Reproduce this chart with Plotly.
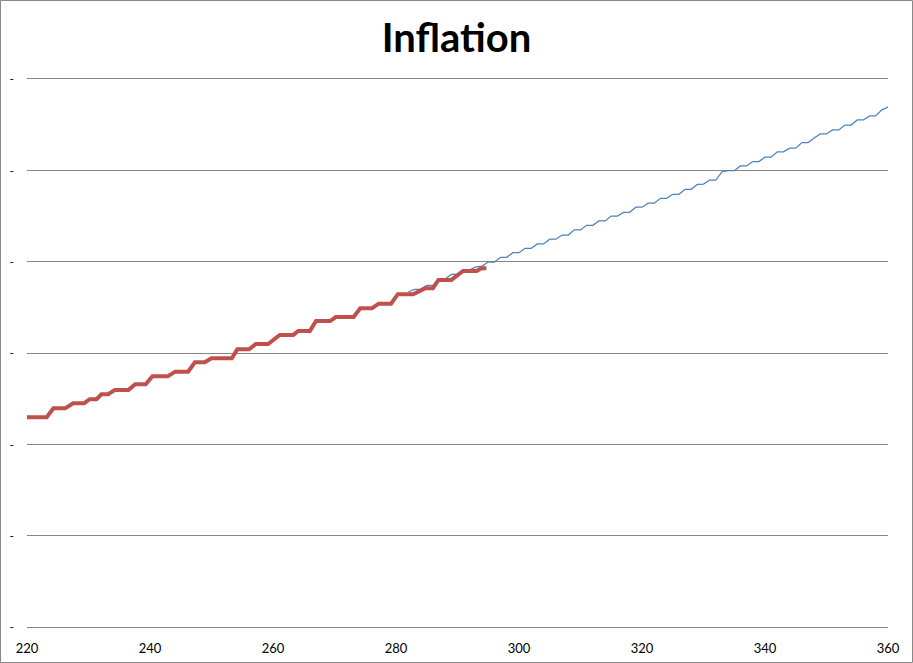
import plotly.graph_objects as go

red_x = [220, 223.2, 224.3, 226.2, 227.5, 229.3, 230.2, 231.3, 232.1, 233.2, 234.3, 236.5,
         237.6, 239.3, 240.4, 242.9, 244.1, 246.2, 247.3, 248.9, 250.0, 253.3, 254.2, 256.1,
         257.2, 259.2, 261.1, 263.3, 264.1, 266.0, 267.0, 269.3, 270.2, 273.1, 274.2, 276.1,
         277.2, 279.2, 280.3, 282.8, 284.7, 286.0, 286.9, 289.0, 290.9, 293.1, 293.9, 294.7]
red_y = [114.8, 114.8, 119.7, 119.7, 122.5, 122.5, 124.7, 124.7, 127.4, 127.4, 129.8, 129.8,
         132.9, 132.9, 137.3, 137.3, 139.8, 139.8, 144.9, 144.9, 147.1, 147.1, 152.0, 152.0,
         154.9, 154.9, 159.9, 159.9, 162.1, 162.1, 167.5, 167.5, 169.7, 169.7, 174.5, 174.5,
         177.0, 177.0, 182.2, 182.2, 185.4, 185.4, 190.0, 190.0, 194.9, 194.9, 196.4, 196.4]

# Projected (blue) series
blue_x = list(range(282, 361))
blue_y = [183.4, 184.8, 184.8, 187.0, 187.0, 190.5, 190.5, 193.0, 193.0, 195.5,
          195.5, 197.1, 197.6, 199.8, 199.8, 202.4, 202.4, 204.9, 204.9, 207.3,
          207.3, 209.7, 209.7, 212.3, 212.3, 214.6, 214.6, 217.4, 217.4, 219.9,
          219.9, 222.3, 222.3, 225.0, 225.0, 227.0, 227.0, 229.8, 229.8, 232.0,
          232.0, 234.7, 234.7, 236.9, 236.9, 239.6, 239.6, 242.3, 242.5, 244.7,
          244.7, 249.1, 249.8, 249.8, 252.4, 252.4, 254.8, 254.8, 257.2, 257.2,
          260.1, 260.1, 262.1, 262.1, 265.2, 265.2, 267.7, 269.9, 269.9, 272.1,
          272.1, 274.8, 274.8, 277.6, 277.6, 279.8, 279.8, 283.1, 284.7]

x_ticks = [220, 240, 260, 280, 300, 320, 340, 360]
y_ticks = [0, 50, 100, 150, 200, 250, 300]
y_ticktext = ["-"] * len(y_ticks)

W, H = 913, 663
ML, MR, MT, MB = 27, 25, 79, 36

fig = go.Figure()
fig.add_trace(go.Scatter(x=blue_x, y=blue_y, mode="lines",
                         line=dict(color="#4F81BD", width=1.25), showlegend=False))
fig.add_trace(go.Scatter(x=red_x, y=red_y, mode="lines",
                         line=dict(color="#C0504D", width=4), showlegend=False))

pw = W - ML - MR
ph = H - MT - MB
fig.add_shape(type="rect", xref="paper", yref="paper",
              x0=(0.5 - ML) / pw, x1=(W - 0.5 - ML) / pw,
              y0=-(MB - 0.5) / ph, y1=(H - 0.5 - MB) / ph,
              line=dict(color="#888888", width=1), layer="below")

fig.update_layout(
    width=W, height=H,
    margin=dict(l=ML, r=MR, t=MT, b=MB, autoexpand=False),
    paper_bgcolor="white", plot_bgcolor="white",
    title=dict(text="<b>Inflation</b>", x=0.5, xref="container", xanchor="center",
               y=1 - 38 / H, yanchor="middle",
               font=dict(family="Lato", size=40, color="black")),
    font=dict(family="Lato", size=12, color="black"),
    xaxis=dict(range=[220, 360], tickvals=x_ticks, showgrid=False, zeroline=False,
               showline=True, mirror=True, linecolor="#868686", linewidth=1,
               ticks="", ticklabelstandoff=9, tickfont=dict(size=13), automargin=False),
    yaxis=dict(range=[0, 300], tickvals=y_ticks, ticktext=y_ticktext, showgrid=True,
               gridcolor="#868686", gridwidth=1, zeroline=False, showline=False,
               ticks="", ticklabelstandoff=12, tickfont=dict(size=12), automargin=False),
)

fig.write_html("out.html", config={"displayModeBar": False},
               post_script="document.body.style.margin='0';")
